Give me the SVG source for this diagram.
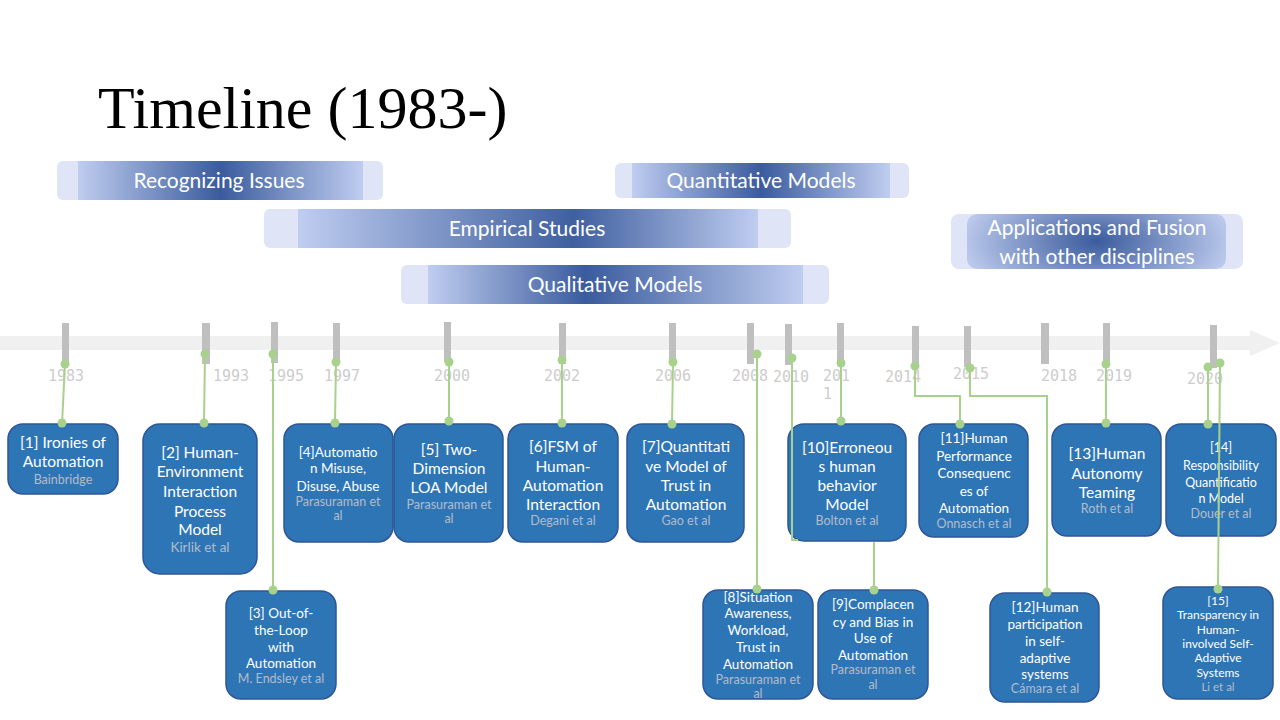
<svg xmlns="http://www.w3.org/2000/svg" width="1280" height="720" viewBox="0 0 1280 720">
  <defs>
    <linearGradient id="gRecog" x1="0" y1="0" x2="1" y2="0">
      <stop offset="0" stop-color="#bfcdf0"/>
      <stop offset="0.5" stop-color="#3a5b9d"/>
      <stop offset="1" stop-color="#bfcdf0"/>
    </linearGradient>
    <linearGradient id="gEmp" x1="0" y1="0" x2="1" y2="0">
      <stop offset="0" stop-color="#bfcdf0"/>
      <stop offset="0.6" stop-color="#3f5f9f"/>
      <stop offset="1" stop-color="#bfcdf0"/>
    </linearGradient>
    <linearGradient id="gQual" x1="0" y1="0" x2="1" y2="0">
      <stop offset="0" stop-color="#bfcdf0"/>
      <stop offset="0.42" stop-color="#3a5b9d"/>
      <stop offset="1" stop-color="#bfcdf0"/>
    </linearGradient>
    <linearGradient id="gQuant" x1="0" y1="0" x2="1" y2="0">
      <stop offset="0" stop-color="#bfcdf0"/>
      <stop offset="0.5" stop-color="#3a5b9d"/>
      <stop offset="1" stop-color="#bfcdf0"/>
    </linearGradient>
    <radialGradient id="gApp" cx="0.5" cy="0.5" r="0.55" gradientTransform="translate(0.5 0.5) scale(1 2.2) translate(-0.5 -0.5)">
      <stop offset="0" stop-color="#3a5b9d"/>
      <stop offset="1" stop-color="#c2cff0"/>
    </radialGradient>
    <style>
      .band { fill: #dfe4f6; }
      .bandText { font-family: Lato, "Liberation Sans", sans-serif; font-size: 21px; fill: #ffffff; text-anchor: middle; }
      .tick { fill: #bfbfbf; }
      .year { font-family: "DejaVu Sans Mono", "Liberation Mono", monospace; font-size: 15px; fill: #cdcdcd; text-anchor: middle; }
      .box { fill: #2e75b6; stroke: #2f5597; stroke-width: 1.5; }
      .t { font-family: Lato, "Liberation Sans", sans-serif; fill: #ffffff; text-anchor: middle; }
      .a { font-family: Lato, "Liberation Sans", sans-serif; fill: #b3bcc9; text-anchor: middle; }
      .f15 { font-size: 15.5px; }
      .f13 { font-size: 13.5px; }
      .f12 { font-size: 12.5px; }
      .f11 { font-size: 12px; }
      .s12 { font-size: 12.5px; }
      .s11 { font-size: 11.5px; }
      .conn { fill: none; stroke: #a9d18e; stroke-width: 2; }
      .dot { fill: #a9d18e; }
    </style>
  </defs>

  <rect width="1280" height="720" fill="#ffffff"/>

  <!-- title -->
  <text x="98" y="128" font-family="'Liberation Serif', 'DejaVu Serif', serif" font-size="60" fill="#000000">Timeline (1983-)</text>

  <!-- phase bands -->
  <g id="band-recognizing">
    <rect class="band" x="57" y="161" width="326" height="39" rx="6"/>
    <rect x="78" y="161" width="285" height="39" fill="url(#gRecog)"/>
    <text class="bandText" x="219" y="188">Recognizing Issues</text>
  </g>
  <g id="band-quantitative">
    <rect class="band" x="615" y="163" width="294" height="35" rx="6"/>
    <rect x="632" y="163" width="258" height="35" fill="url(#gQuant)"/>
    <text class="bandText" x="761" y="188">Quantitative Models</text>
  </g>
  <g id="band-empirical">
    <rect class="band" x="264" y="209" width="527" height="39" rx="6"/>
    <rect x="298" y="209" width="460" height="39" fill="url(#gEmp)"/>
    <text class="bandText" x="527" y="236">Empirical Studies</text>
  </g>
  <g id="band-applications">
    <rect class="band" x="951" y="214" width="292" height="55" rx="8"/>
    <rect x="967" y="214" width="259" height="55" rx="10" fill="url(#gApp)"/>
    <text class="bandText" x="1097" y="235">Applications and Fusion</text>
    <text class="bandText" x="1097" y="264">with other disciplines</text>
  </g>
  <g id="band-qualitative">
    <rect class="band" x="401" y="265" width="428" height="39" rx="6"/>
    <rect x="428" y="265" width="375" height="39" fill="url(#gQual)"/>
    <text class="bandText" x="615" y="292">Qualitative Models</text>
  </g>

  <!-- time axis -->
  <g id="axis">
    <rect x="0" y="336" width="1252" height="14" fill="#f0f0f0"/>
    <polygon points="1250,330 1280,343 1250,356" fill="#f0f0f0"/>
    <rect class="tick" x="62" y="323" width="7" height="41"/>
    <rect class="tick" x="202" y="323" width="8" height="41"/>
    <rect class="tick" x="271" y="322" width="7" height="41"/>
    <rect class="tick" x="333" y="323" width="7" height="40"/>
    <rect class="tick" x="444" y="322" width="7" height="40"/>
    <rect class="tick" x="559" y="323" width="7" height="41"/>
    <rect class="tick" x="669" y="323" width="7" height="39"/>
    <rect class="tick" x="747" y="323" width="7" height="41"/>
    <rect class="tick" x="785" y="324" width="7" height="41"/>
    <rect class="tick" x="837" y="323" width="7" height="39"/>
    <rect class="tick" x="912" y="326" width="7" height="41"/>
    <rect class="tick" x="964" y="326" width="7" height="41"/>
    <rect class="tick" x="1041" y="323" width="8" height="41"/>
    <rect class="tick" x="1103" y="323" width="7" height="41"/>
    <rect class="tick" x="1210" y="325" width="7" height="43"/>
    <text class="year" x="66" y="381">1983</text>
    <text class="year" x="231" y="381">1993</text>
    <text class="year" x="286" y="381">1995</text>
    <text class="year" x="342" y="381">1997</text>
    <text class="year" x="452" y="381">2000</text>
    <text class="year" x="562" y="381">2002</text>
    <text class="year" x="673" y="381">2006</text>
    <text class="year" x="750" y="381">2008</text>
    <text class="year" x="791" y="382">2010</text>
    <text class="year" x="823" y="381" text-anchor="start" style="text-anchor:start">201</text>
    <text class="year" x="823" y="399" style="text-anchor:start">1</text>
    <text class="year" x="903" y="382">2014</text>
    <text class="year" x="971" y="379">2015</text>
    <text class="year" x="1059" y="381">2018</text>
    <text class="year" x="1114" y="381">2019</text>
    <text class="year" x="1205" y="384">2020</text>
  </g>

  <!-- publications -->
  <g id="node-1">
    <rect class="box" x="8" y="424" width="110" height="70" rx="15"/>
    <text class="t f15" x="63" y="448">[1] Ironies of</text>
    <text class="t f15" x="63" y="467">Automation</text>
    <text class="a s12" x="63" y="484">Bainbridge</text>
  </g>
  <g id="node-2">
    <rect class="box" x="143" y="424" width="114" height="150" rx="17"/>
    <text class="t f15" x="200" y="458">[2] Human-</text>
    <text class="t f15" x="200" y="477">Environment</text>
    <text class="t f15" x="200" y="497">Interaction</text>
    <text class="t f15" x="200" y="517">Process</text>
    <text class="t f15" x="200" y="535">Model</text>
    <text class="a f13" x="200" y="552">Kirlik et al</text>
  </g>
  <g id="node-3">
    <rect class="box" x="226" y="591" width="110" height="108" rx="15"/>
    <text class="t f13" x="281" y="618">[3] Out-of-</text>
    <text class="t f13" x="281" y="635">the-Loop</text>
    <text class="t f13" x="281" y="652">with</text>
    <text class="t f13" x="281" y="668">Automation</text>
    <text class="a s12" x="281" y="683">M. Endsley et al</text>
  </g>
  <g id="node-4">
    <rect class="box" x="284" y="424" width="109" height="118" rx="15"/>
    <text class="t f13" x="338" y="457">[4]Automatio</text>
    <text class="t f13" x="338" y="473">n Misuse,</text>
    <text class="t f13" x="338" y="491">Disuse, Abuse</text>
    <text class="a s12" x="338" y="506">Parasuraman et</text>
    <text class="a s12" x="338" y="520">al</text>
  </g>
  <g id="node-5">
    <rect class="box" x="394" y="424" width="109" height="118" rx="15"/>
    <text class="t f15" x="449" y="455">[5] Two-</text>
    <text class="t f15" x="449" y="474">Dimension</text>
    <text class="t f15" x="449" y="493">LOA Model</text>
    <text class="a s12" x="449" y="509">Parasuraman et</text>
    <text class="a s12" x="449" y="523">al</text>
  </g>
  <g id="node-6">
    <rect class="box" x="508" y="424" width="110" height="118" rx="15"/>
    <text class="t f15" x="563" y="452">[6]FSM of</text>
    <text class="t f15" x="563" y="472">Human-</text>
    <text class="t f15" x="563" y="491">Automation</text>
    <text class="t f15" x="563" y="510">Interaction</text>
    <text class="a s12" x="563" y="525">Degani et al</text>
  </g>
  <g id="node-7">
    <rect class="box" x="627" y="424" width="117" height="118" rx="15"/>
    <text class="t f15" x="686" y="452">[7]Quantitati</text>
    <text class="t f15" x="686" y="472">ve Model of</text>
    <text class="t f15" x="686" y="491">Trust in</text>
    <text class="t f15" x="686" y="510">Automation</text>
    <text class="a s12" x="686" y="525">Gao et al</text>
  </g>
  <g id="node-8">
    <rect class="box" x="703" y="590" width="110" height="109" rx="15"/>
    <text class="t f13" x="758" y="602">[8]Situation</text>
    <text class="t f13" x="758" y="618">Awareness,</text>
    <text class="t f13" x="758" y="635">Workload,</text>
    <text class="t f13" x="758" y="652">Trust in</text>
    <text class="t f13" x="758" y="669">Automation</text>
    <text class="a s12" x="758" y="684">Parasuraman et</text>
    <text class="a s12" x="758" y="698">al</text>
  </g>
  <g id="node-9">
    <rect class="box" x="818" y="590" width="110" height="109" rx="15"/>
    <text class="t f13" x="873" y="609">[9]Complacen</text>
    <text class="t f13" x="873" y="627">cy and Bias in</text>
    <text class="t f13" x="873" y="643">Use of</text>
    <text class="t f13" x="873" y="660">Automation</text>
    <text class="a s12" x="873" y="674">Parasuraman et</text>
    <text class="a s12" x="873" y="689">al</text>
  </g>
  <g id="node-10">
    <rect class="box" x="788" y="424" width="118" height="117" rx="16"/>
    <text class="t f15" x="847" y="453">[10]Erroneou</text>
    <text class="t f15" x="847" y="472">s human</text>
    <text class="t f15" x="847" y="491">behavior</text>
    <text class="t f15" x="847" y="510">Model</text>
    <text class="a s12" x="847" y="525">Bolton et al</text>
  </g>
  <g id="node-11">
    <rect class="box" x="919" y="424" width="109" height="113" rx="15"/>
    <text class="t f13" x="974" y="443">[11]Human</text>
    <text class="t f13" x="974" y="461">Performance</text>
    <text class="t f13" x="974" y="478">Consequenc</text>
    <text class="t f13" x="974" y="496">es of</text>
    <text class="t f13" x="974" y="513">Automation</text>
    <text class="a s12" x="974" y="528">Onnasch et al</text>
  </g>
  <g id="node-12">
    <rect class="box" x="990" y="593" width="109" height="109" rx="15"/>
    <text class="t f13" x="1045" y="612">[12]Human</text>
    <text class="t f13" x="1045" y="629">participation</text>
    <text class="t f13" x="1045" y="646">in self-</text>
    <text class="t f13" x="1045" y="663">adaptive</text>
    <text class="t f13" x="1045" y="679">systems</text>
    <text class="a s12" x="1045" y="693">Cámara et al</text>
  </g>
  <g id="node-13">
    <rect class="box" x="1052" y="424" width="109" height="112" rx="15"/>
    <text class="t f15" x="1107" y="459">[13]Human</text>
    <text class="t f15" x="1107" y="479">Autonomy</text>
    <text class="t f15" x="1107" y="498">Teaming</text>
    <text class="a s12" x="1107" y="513">Roth et al</text>
  </g>
  <g id="node-14">
    <rect class="box" x="1166" y="424" width="110" height="112" rx="15"/>
    <text class="t f12" x="1221" y="452">[14]</text>
    <text class="t f12" x="1221" y="470">Responsibility</text>
    <text class="t f12" x="1221" y="487">Quantificatio</text>
    <text class="t f12" x="1221" y="503">n Model</text>
    <text class="a s12" x="1221" y="518">Douer et al</text>
  </g>
  <g id="node-15">
    <rect class="box" x="1163" y="587" width="110" height="112" rx="15"/>
    <text class="t f11" x="1218" y="605">[15]</text>
    <text class="t f11" x="1218" y="619">Transparency in</text>
    <text class="t f11" x="1218" y="634">Human-</text>
    <text class="t f11" x="1218" y="648">involved Self-</text>
    <text class="t f11" x="1218" y="662">Adaptive</text>
    <text class="t f11" x="1218" y="677">Systems</text>
    <text class="a s11" x="1218" y="691">Li  et al</text>
  </g>

  <!-- year-to-publication connectors -->
  <g id="connectors">
    <path class="conn" d="M65,364 L62,424"/>
    <path class="conn" d="M205,354 L204,423"/>
    <path class="conn" d="M273,354 L273,590"/>
    <path class="conn" d="M336,362 L335,423"/>
    <path class="conn" d="M449,362 L449,422"/>
    <path class="conn" d="M562,360 L562,423"/>
    <path class="conn" d="M673,362 L672,424"/>
    <path class="conn" d="M757,354 L757,589"/>
    <path class="conn" d="M792,358 V540 H798 M874,542 V590"/>
    <path class="conn" d="M841,363 L841,421"/>
    <path class="conn" d="M915,366 V396 H960 V424"/>
    <path class="conn" d="M970,368 V396 H1047 V592"/>
    <path class="conn" d="M1106,364 L1106,423"/>
    <path class="conn" d="M1208,367 L1208,424"/>
    <path class="conn" d="M1220,363 L1218,589"/>
    <circle class="dot" cx="65" cy="364" r="4.5"/>
    <circle class="dot" cx="62" cy="423" r="4.5"/>
    <circle class="dot" cx="205" cy="354" r="4.5"/>
    <circle class="dot" cx="204" cy="423" r="4.5"/>
    <circle class="dot" cx="273" cy="354" r="4.5"/>
    <circle class="dot" cx="273" cy="590" r="4.5"/>
    <circle class="dot" cx="336" cy="362" r="4.5"/>
    <circle class="dot" cx="335" cy="423" r="4.5"/>
    <circle class="dot" cx="449" cy="362" r="4.5"/>
    <circle class="dot" cx="449" cy="421" r="4.5"/>
    <circle class="dot" cx="562" cy="360" r="4.5"/>
    <circle class="dot" cx="562" cy="423" r="4.5"/>
    <circle class="dot" cx="673" cy="362" r="4.5"/>
    <circle class="dot" cx="672" cy="424" r="4.5"/>
    <circle class="dot" cx="757" cy="354" r="4.5"/>
    <circle class="dot" cx="757" cy="589" r="4.5"/>
    <circle class="dot" cx="792" cy="358" r="4.5"/>
    <circle class="dot" cx="874" cy="590" r="4.5"/>
    <circle class="dot" cx="841" cy="363" r="4.5"/>
    <circle class="dot" cx="841" cy="421" r="4.5"/>
    <circle class="dot" cx="915" cy="366" r="4.5"/>
    <circle class="dot" cx="960" cy="424" r="4.5"/>
    <circle class="dot" cx="970" cy="368" r="4.5"/>
    <circle class="dot" cx="1047" cy="592" r="4.5"/>
    <circle class="dot" cx="1106" cy="364" r="4.5"/>
    <circle class="dot" cx="1106" cy="423" r="4.5"/>
    <circle class="dot" cx="1208" cy="367" r="4.5"/>
    <circle class="dot" cx="1208" cy="424" r="4.5"/>
    <circle class="dot" cx="1220" cy="363" r="4.5"/>
    <circle class="dot" cx="1218" cy="589" r="4.5"/>
  </g>
</svg>
